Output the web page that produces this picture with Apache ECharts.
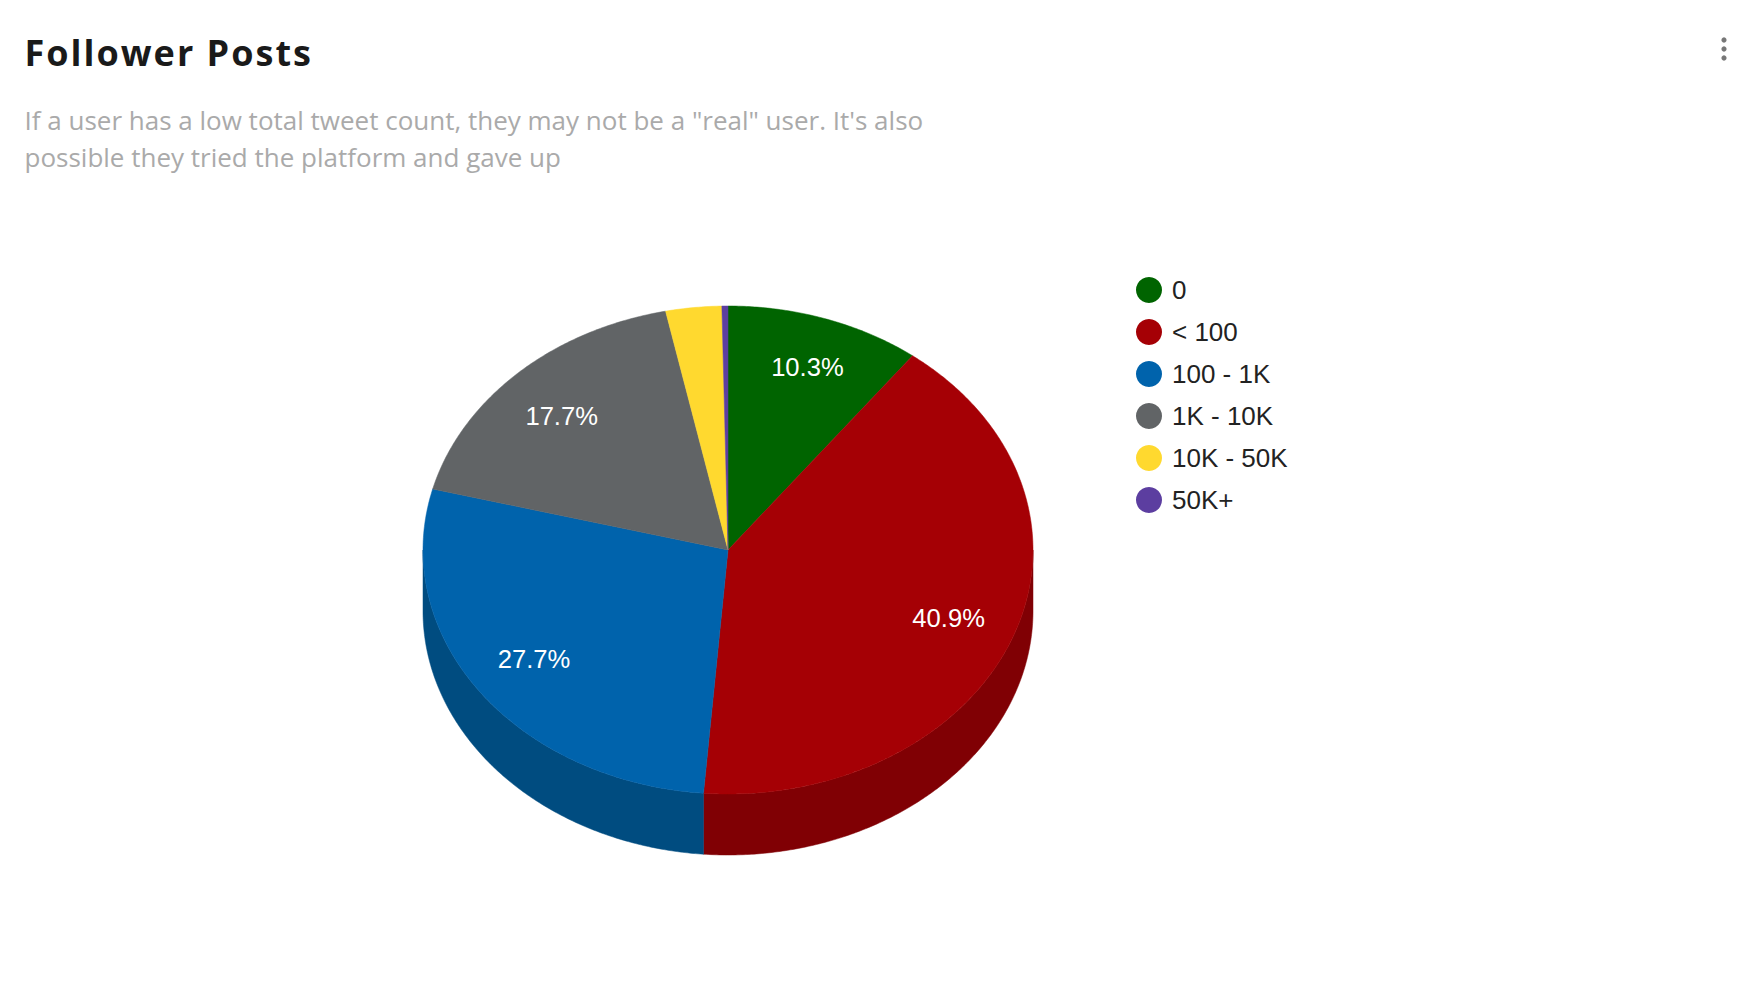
<!DOCTYPE html>
<html><head><meta charset="utf-8">
<style>html,body{margin:0;padding:0;background:#fff}#c{width:1742px;height:992px}
#c svg text[style*="700"],#c svg text[style*="bold"]{letter-spacing:2px}</style>
<script src="https://cdn.jsdelivr.net/npm/echarts@6/dist/echarts.min.js"></script>
</head><body><div id="c"></div>
<script>
const categories = ['0', '< 100', '100 - 1K', '1K - 10K', '10K - 50K', '50K+'];
const values = [10.34, 40.94, 27.74, 17.7, 2.96, 0.32];
const faceColors = ['#006400', '#A50005', '#0063AC', '#616466', '#FFD92F', '#5C3EA0'];
const wallColors = ['#004600', '#800004', '#004C80', '#44474A', '#B29821', '#402B70'];
const titleText = 'Follower Posts';
const subtitleText = 'If a user has a low total tweet count, they may not be a "real" user. It\'s also\npossible they tried the platform and gave up';

const CX = 728, CY = 550, RX = 305, RY = 244, DEPTH = 61, LABEL_R = 0.785, MIN_LABEL = 5;
const LABEL_NUDGE = [[3, -1], [-3, 0], [1, -2], [-1, 5], [0, 0], [0, 0]];
const total = values.reduce((a, b) => a + b, 0);
const pt = (deg, r = 1, dy = 0) => {
  const t = deg * Math.PI / 180;
  return [CX + RX * r * Math.sin(t), CY - RY * r * Math.cos(t) + dy];
};
const arc = (from, to, dy = 0) => {
  const n = Math.max(2, Math.ceil(Math.abs(to - from) * 2));
  const out = [];
  for (let i = 0; i <= n; i++) out.push(pt(from + (to - from) * i / n, 1, dy));
  return out;
};

function slice(index) {
  const before = values.slice(0, index).reduce((a, b) => a + b, 0);
  return { start: before / total * 360, end: (before + values[index]) / total * 360 };
}

const wallSeries = categories.map((name, i) => ({
  type: 'custom', name, coordinateSystem: 'none', silent: true, z: 2,
  itemStyle: { color: faceColors[i] },
  data: [[values[i]]],
  renderItem: () => {
    const s = slice(i);
    const a = Math.max(s.start, 90), b = Math.min(s.end, 270);
    if (a >= b) return { type: 'group', children: [] };
    return {
      type: 'polygon',
      shape: { points: arc(a, b).concat(arc(b, a, DEPTH)) },
      style: { fill: wallColors[i], stroke: wallColors[i], lineWidth: 0.5 }
    };
  }
}));

const faceSeries = categories.map((name, i) => ({
  type: 'custom', name, coordinateSystem: 'none', z: 3,
  itemStyle: { color: faceColors[i] },
  data: [[values[i]]],
  renderItem: (params, api) => {
    const s = slice(i);
    const children = [{
      type: 'polygon',
      shape: { points: [[CX, CY]].concat(arc(s.start, s.end)) },
      style: { fill: api.visual('color'), stroke: api.visual('color'), lineWidth: 0.5 }
    }];
    if (api.value(0) >= MIN_LABEL) {
      const p = pt((s.start + s.end) / 2, LABEL_R);
      children.push({
        type: 'text', z2: 10,
        x: p[0] + LABEL_NUDGE[i][0], y: p[1] + LABEL_NUDGE[i][1],
        style: {
          text: api.value(0).toFixed(1) + '%',
          fill: '#fff',
          font: '25.6px "Liberation Sans"',
          align: 'center', verticalAlign: 'middle'
        }
      });
    }
    return { type: 'group', children };
  }
}));

const chart = echarts.init(document.getElementById('c'), null, { renderer: 'svg' });
chart.setOption({
  animation: false,
  backgroundColor: '#fff',
  title: [
    { text: titleText, left: 19.5, top: 29.5, textStyle: { fontFamily: 'Open Sans', fontWeight: 700, fontSize: 36, color: '#1a1a1a' } },
    { text: subtitleText, left: 19.5, top: 96.5, textStyle: { fontFamily: 'Open Sans', fontWeight: 400, fontSize: 26, lineHeight: 37, color: '#aaaaaa' } }
  ],
  legend: {
    orient: 'vertical', left: 1131, top: 272, icon: 'circle',
    itemWidth: 26, itemHeight: 26, itemGap: 16,
    data: categories,
    selectedMode: false,
    textStyle: { fontFamily: 'Liberation Sans', fontSize: 26, color: '#222', padding: [0, 0, 1, 5] }
  },
  graphic: [40, 49, 58].map(y => ({ type: 'circle', shape: { cx: 1724, cy: y, r: 2.6 }, style: { fill: '#777' } })),
  series: wallSeries.concat(faceSeries)
});
</script></body></html>
